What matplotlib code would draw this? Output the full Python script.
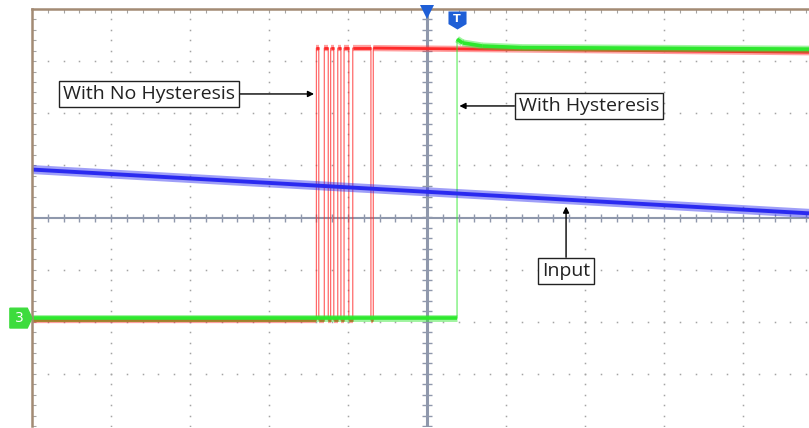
import numpy as np
import matplotlib.pyplot as plt
from matplotlib.path import Path
from matplotlib.patches import Polygon
from matplotlib.collections import LineCollection

# Scope screen in divisions: time 0 is the centre line, level 0 the centre line
t_left, t_right = -5.0, 4.835

blue_t = [-5.0, 4.835]
blue_v = [0.92, 0.08]

green_t = [-5.0, 0.38, 0.38, 0.45, 0.7, 1.2, 4.835]
green_v = [-1.93, -1.93, 3.42, 3.35, 3.29, 3.26, 3.23]

red_low = -1.97
red_high = 3.25
red_end = 3.17
red_edges = [-1.40, -1.37, -1.30, -1.25, -1.22, -1.18, -1.13,
             -1.09, -1.05, -0.99, -0.94, -0.71, -0.68]

notes = ["With No Hysteresis", "With Hysteresis", "Input"]
note_xy = [(-3.52, 2.37), (2.05, 2.14), (1.76, -1.02)]
note_tip = [(-1.43, 2.37), (0.41, 2.14), (1.76, 0.21)]

# Build the red step trace from its edges
red_t, red_v = [t_left], [red_low]
lvl = red_low
for e in red_edges:
    new = red_high if lvl == red_low else red_low
    red_t += [e, e]
    red_v += [lvl, new]
    lvl = new
red_t.append(t_right)
red_v.append(red_end)

fig = plt.figure(figsize=(8.09, 4.28), dpi=100)
ax = fig.add_axes([32 / 809, 2 / 428, 777 / 809, 417 / 428])
ax.set_xlim(t_left, t_right)
ax.set_ylim(-4, 4)
ax.axis('off')

grid_c = '#a4a4a4'
axis_c = '#8f98ac'

# dotted graticule
minor_y = np.arange(-4, 4.01, 0.2)
minor_x = np.arange(-5, 4.9, 0.2)
for xi in [-4, -3, -2, -1, 1, 2, 3, 4]:
    ax.plot(np.full_like(minor_y, xi), minor_y, ls='none', marker='s',
            ms=1.1, mew=0, color=grid_c, zorder=1)
for yi in [-3, -2, -1, 1, 2, 3]:
    ax.plot(minor_x, np.full_like(minor_x, yi), ls='none', marker='s',
            ms=1.1, mew=0, color=grid_c, zorder=1)

# centre axes with ticks
ax.axvline(0, color=axis_c, lw=2.2, zorder=2)
ax.axhline(0, color=axis_c, lw=1.5, zorder=2)
ax.plot(minor_x, np.zeros_like(minor_x), ls='none', marker='|', ms=6,
        mew=1, color=axis_c, zorder=2)
ax.plot(np.zeros_like(minor_y), minor_y, ls='none', marker='_', ms=7,
        mew=1, color=axis_c, zorder=2)

# border ticks and brown frame
ax.plot(minor_x, np.full_like(minor_x, 4), ls='none', marker='|', ms=6,
        mew=0.8, color=grid_c, zorder=1)
ax.plot(np.full_like(minor_y, -5), minor_y, ls='none', marker='_', ms=6,
        mew=0.8, color=grid_c, zorder=1)
ax.axhline(4, color='#a38b74', lw=1.8, clip_on=False, zorder=6)
ax.axvline(-5, color='#a38b74', lw=1.8, clip_on=False, zorder=6)


def trace(t, v, color, core, band, z):
    t = np.asarray(t)
    v = np.asarray(v)
    ax.plot(t, v, color=color, lw=0.9, alpha=0.7, zorder=z)
    segs = [[(t[i], v[i]), (t[i + 1], v[i + 1])]
            for i in range(len(t) - 1) if t[i] != t[i + 1]]
    ax.add_collection(LineCollection(segs, colors=color, linewidths=band,
                                     alpha=0.45, capstyle='butt', zorder=z))
    ax.add_collection(LineCollection(segs, colors=color, linewidths=core,
                                     capstyle='butt', zorder=z))


trace(red_t, red_v, '#ff2a2a', 2.0, 4.5, 3)
trace(green_t, green_v, '#2ee82e', 2.6, 5.0, 4)
trace(blue_t, blue_v, '#2a2af0', 2.8, 6.5, 5)

# trigger position marker at the top
ax.plot(0, 4 - 0.06, marker='v', ms=10, color='#1f5fd6', mew=0,
        clip_on=False, zorder=7)

# trigger "T" marker
shield = Path([(-0.5, 0.5), (0.5, 0.5), (0.5, -0.2), (0, -0.5),
               (-0.5, -0.2), (-0.5, 0.5)],
              [1, 2, 2, 2, 2, 79])
ax.plot(green_t[1], 3.79, marker=shield, ms=13, color='#1f5fd6', mew=0,
        zorder=7)
ax.text(green_t[1], 3.81, 'T', color='white', fontsize=8, fontweight='bold',
        ha='center', va='center', zorder=8)

# channel 3 ground marker
gy = green_v[0]
ch3 = Polygon([(-5.28, gy + 0.19), (-5.06, gy + 0.19), (-5.0, gy),
               (-5.06, gy - 0.19), (-5.28, gy - 0.19)],
              closed=True, facecolor='#3ddc3d', edgecolor='#3ddc3d',
              clip_on=False, zorder=7)
ax.add_patch(ch3)
ax.text(-5.16, gy, '3', color='white', fontsize=10, ha='center',
        va='center', clip_on=False, zorder=8)

# callouts
for txt, xy, tip in zip(notes, note_xy, note_tip):
    ax.annotate(txt, xy=tip, xytext=xy, ha='center', va='center',
                fontsize=14, family='Open Sans', color='#222222',
                bbox=dict(boxstyle='square,pad=0.2', fc='white',
                          ec='#222222', lw=1),
                arrowprops=dict(arrowstyle='-|>', color='black', lw=1,
                                mutation_scale=9, shrinkA=0, shrinkB=0),
                zorder=9)

fig.savefig('out.png', dpi=100)
